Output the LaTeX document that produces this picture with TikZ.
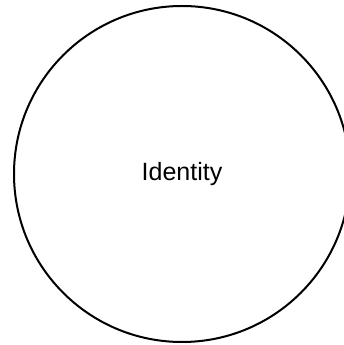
\documentclass[tikz,border=0pt]{standalone}
\usepackage{fontspec}
\setmainfont{Liberation Sans}
\usetikzlibrary{positioning}
\definecolor{cblack}{HTML}{000000}
\tikzset{
  every picture/.style={x=1pt, y=1pt, line width=2pt},
  entity/.style={circle, draw=cblack, minimum size=336pt, inner sep=0pt, font=\fontsize{25}{30}\selectfont},
}
\begin{document}
\begin{tikzpicture}
  \useasboundingbox (0,0) rectangle (344,345);
  \node[entity] (identity) at (182,171) {Identity};
\end{tikzpicture}
\end{document}
